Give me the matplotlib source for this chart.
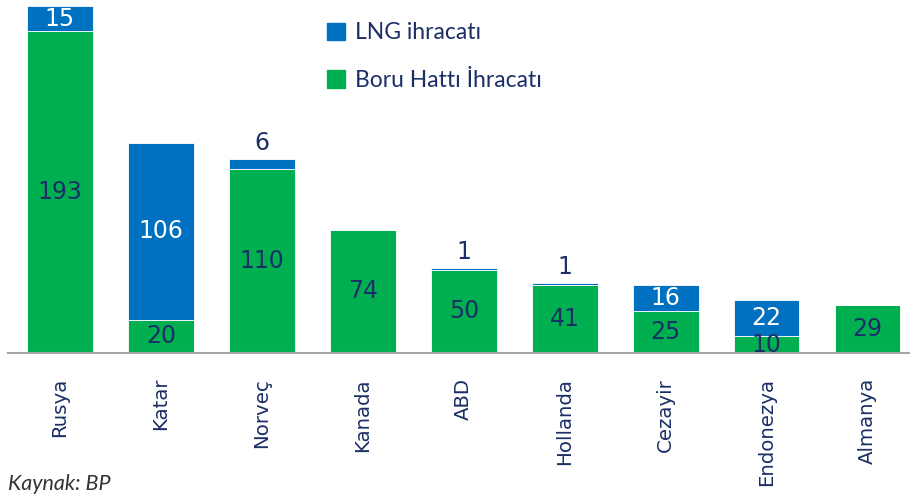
import matplotlib.pyplot as plt
from matplotlib.patches import Patch

# data
ulkeler = ['Rusya', 'Katar', 'Norveç', 'Kanada', 'ABD', 'Hollanda', 'Cezayir', 'Endonezya', 'Almanya']
boru = [193, 20, 110, 74, 50, 41, 25, 10, 29]
lng = [15, 106, 6, 0, 1, 1, 16, 22, 0]

mavi = '#0070C0'
yesil = '#00B050'
lacivert = '#1B2F66'

fig = plt.figure(figsize=(9.1, 4.97), dpi=100)
ax = fig.add_axes([8 / 910, 144 / 497, 902 / 910, 347 / 497])

x = list(range(len(ulkeler)))
ax.bar(x, boru, width=0.65, color=yesil, edgecolor='white', linewidth=0.6)
ax.bar(x, lng, width=0.65, bottom=boru, color=mavi, edgecolor='white', linewidth=0.6)

for i in x:
    ax.text(i, boru[i] / 2, str(boru[i]), ha='center', va='center',
            fontsize=17, color=lacivert)
    if lng[i] >= 10:
        ax.text(i, boru[i] + lng[i] / 2, str(lng[i]), ha='center', va='center',
                fontsize=17, color='white')
    elif lng[i] > 0:
        ax.annotate(str(lng[i]), (i, boru[i] + lng[i]), xytext=(0, 3),
                    textcoords='offset points', ha='center', va='bottom',
                    fontsize=17, color=lacivert)

ax.set_xlim(-0.515, 8.42)
ax.set_ylim(0, 208)
ax.set_yticks([])
for s in ['top', 'right', 'left']:
    ax.spines[s].set_visible(False)
ax.spines['bottom'].set_color('#A6A6A6')
ax.spines['bottom'].set_linewidth(1.5)

ax.set_xticks(x)
ax.set_xticklabels(ulkeler, rotation=90, fontsize=14.2, color=lacivert)
ax.tick_params(axis='x', length=0, pad=18)

handles = [Patch(color=mavi, label='LNG ihracatı'),
           Patch(color=yesil, label='Boru Hattı İhracatı')]
ax.legend(handles=handles, loc='upper left', bbox_to_anchor=(298 / 902, 1.012),
          frameon=False, handlelength=0.8, handleheight=0.8, handletextpad=0.45,
          labelspacing=1.15, prop={'family': 'Lato', 'size': 16.5}, labelcolor=lacivert)

fig.text(8 / 910, 3 / 497, 'Kaynak: BP', fontsize=15.5, style='italic',
         family='Lato', color='#333333', ha='left', va='bottom')

plt.savefig('out.png', dpi=100)
plt.close()
